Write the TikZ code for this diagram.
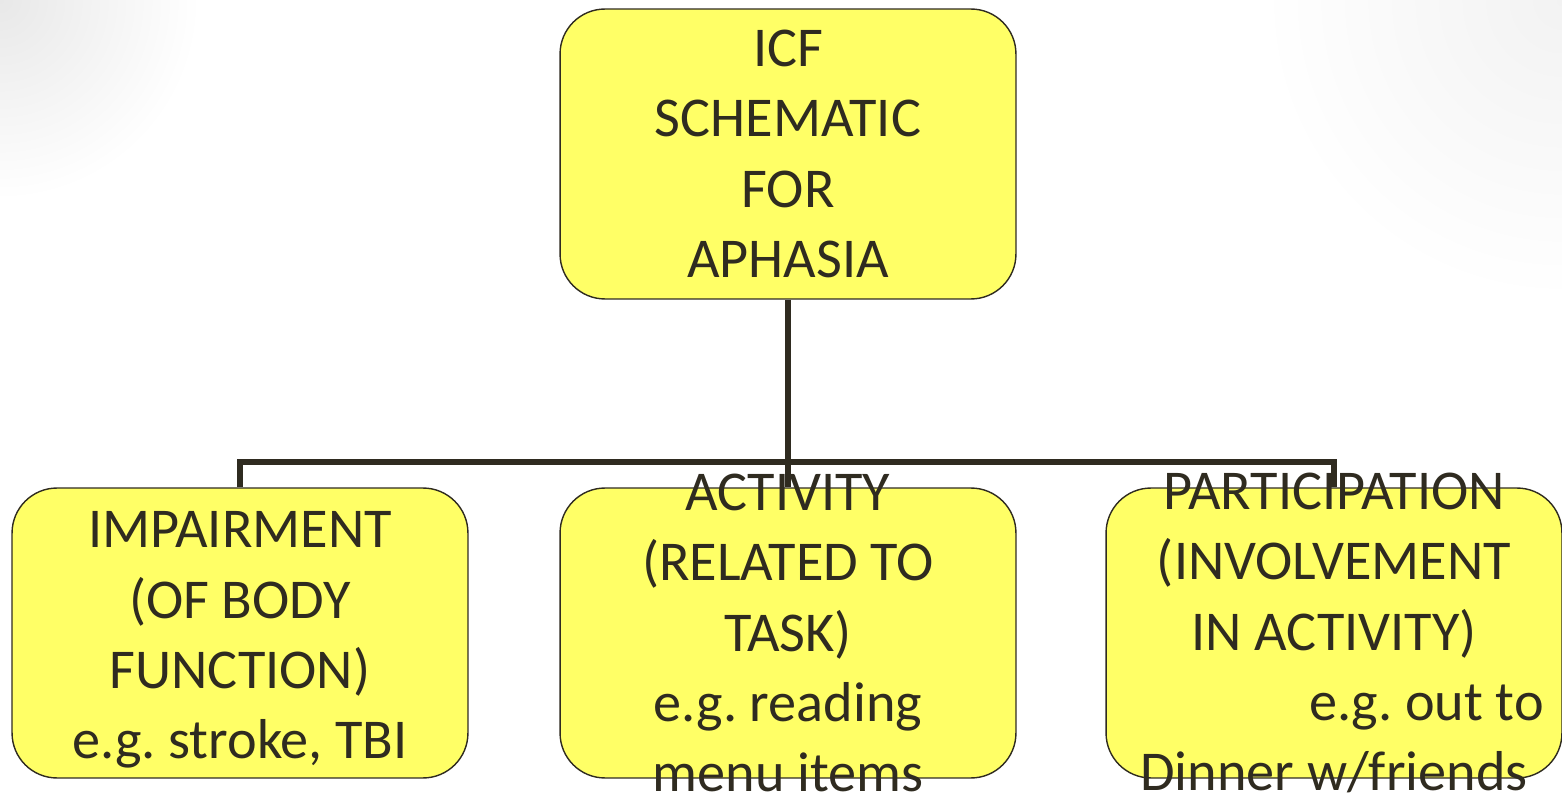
\documentclass[tikz,border=0pt]{standalone}
\usepackage{fontspec}
\setmainfont{Carlito}
\usepackage{tikz}
\usetikzlibrary{positioning}
\usepackage{xcolor}
\definecolor{icfink}{RGB}{47,43,32}
\definecolor{icfyellow}{RGB}{255,255,102}
\frenchspacing

\begin{document}
\begin{tikzpicture}[x=0.02cm, y=-0.02cm,
  icfbox/.style={draw=icfink, line width=0.8pt, fill=icfyellow, rectangle,
                 rounded corners=0.9cm, minimum width=9.12cm, minimum height=5.8cm,
                 inner sep=0pt},
  icftext/.style={align=center, text=icfink, inner sep=0pt,
                  font=\fontsize{32}{40}\selectfont},
  conn/.style={draw=icfink, line width=3.3pt}
]
\useasboundingbox (0,0) rectangle (1562,800);

% faint slide background in the corners
\begin{scope}
  \clip (0,0) rectangle (1562,800);
  \shade[inner color=black!9, outer color=white] (0,0) circle (200);
  \shade[inner color=black!5, outer color=white] (1562,0) circle (300);
\end{scope}

\node[icfbox] (icf) at (788,154) {};
\node[icfbox] (impair) at (240,633) {};
\node[icfbox] (activ) at (788,633) {};
\node[icfbox] (partic) at (1334,633) {};

\coordinate (bus) at (788,462);
\draw[conn] (icf.south) -- (activ.north);
\draw[conn] (impair.north) |- (bus) -| (partic.north);

\node[icftext] (icftxt) at (icf.center) {ICF\\ SCHEMATIC\\ FOR\\ APHASIA};
\node[icftext] (impairtxt) at ([yshift=-0.14cm]impair.center) {
  IMPAIRMENT\\ (OF BODY\\ FUNCTION)\\ e.g. stroke, TBI
};
\node[icftext] (activtxt) at (activ.center) {
  ACTIVITY\\ (RELATED TO\\ TASK)\\ e.g. reading\\ menu items
};
\node[icftext] (partictxt) at (partic.center) {
  PARTICIPATION\\ (INVOLVEMENT\\ IN ACTIVITY)\\
  \hspace*{3.7cm}e.g. out to\\ Dinner w/friends
};

\end{tikzpicture}
\end{document}
